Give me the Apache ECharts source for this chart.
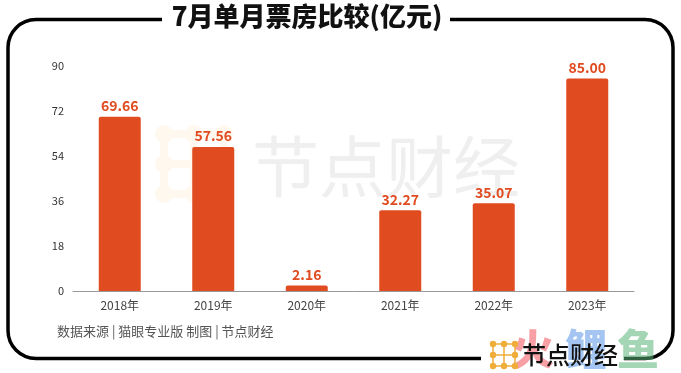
<!DOCTYPE html>
<html><head><meta charset="utf-8">
<script src="https://cdn.jsdelivr.net/npm/echarts@6/dist/echarts.min.js"></script>
<style>html,body{margin:0;padding:0;background:#fff}#c{width:681px;height:373px}</style>
</head><body><div id="c"></div>
<script>
const categories = ['2018年','2019年','2020年','2021年','2022年','2023年'];
const boxOffice = [69.66, 57.56, 2.16, 32.27, 35.07, 85.00];
const yTicks = [0, 18, 36, 54, 72, 90];
const titleText = '7月单月票房比较(亿元)';
const sourceText = '数据来源 | 猫眼专业版 制图 | 节点财经';

const chart = echarts.init(document.getElementById('c'), null, {renderer:'canvas'});
const FONT = '"Noto Sans CJK SC", "Noto Sans", sans-serif';

function dotIcon(x0, y0, step, r, color, lineW, z) {
  const els = [];
  for (let i = 0; i < 3; i++) {
    els.push({type:'line', shape:{x1:x0, y1:y0+i*step, x2:x0+2*step, y2:y0+i*step}, style:{stroke:color, lineWidth:lineW}, z:z});
    els.push({type:'line', shape:{x1:x0+i*step, y1:y0, x2:x0+i*step, y2:y0+2*step}, style:{stroke:color, lineWidth:lineW}, z:z});
  }
  for (let i = 0; i < 3; i++) for (let j = 0; j < 3; j++) {
    if (i === 1 && j === 1) continue;
    els.push({type:'circle', shape:{cx:x0+i*step, cy:y0+j*step, r:r}, style:{fill:color}, z:z});
  }
  return els;
}

const graphics = [
  {type:'rect', shape:{x:8, y:19.5, width:665, height:339, r:28}, style:{fill:'none', stroke:'#000', lineWidth:3.5}, z:1},
  {type:'rect', shape:{x:162, y:2, width:288, height:34}, style:{fill:'#fff'}, z:2},
  {type:'text', x:307, y:16, style:{text:titleText, font:'900 26px '+FONT, fill:'#111', textAlign:'center', textVerticalAlign:'middle'}, z:3},
  // watermark
  {type:'text', x:252, y:167, style:{text:'节点财经', font:'400 67px '+FONT, fill:'#efefef', textAlign:'left', textVerticalAlign:'middle'}, z:0},
  ...dotIcon(164, 134, 30, 9, '#fef8ef', 8, 0),
  // source
  {type:'text', x:57, y:331, style:{text:sourceText, font:'400 13px '+FONT, fill:'#555', textAlign:'left', textVerticalAlign:'middle'}, z:3},
  // bottom-right logo
  {type:'rect', shape:{x:481, y:340, width:143, height:33}, style:{fill:'#fff'}, z:2},
  {type:'text', x:512, y:349, style:{text:'火', font:'900 42px '+FONT, fill:'rgba(240,80,90,0.55)', textAlign:'left', textVerticalAlign:'middle'}, z:4},
  {type:'text', x:565, y:349, style:{text:'鲤', font:'900 42px '+FONT, fill:'rgba(90,150,230,0.55)', textAlign:'left', textVerticalAlign:'middle'}, z:4},
  {type:'text', x:617, y:349, style:{text:'鱼', font:'900 42px '+FONT, fill:'rgba(90,180,120,0.55)', textAlign:'left', textVerticalAlign:'middle'}, z:4},
  {type:'text', x:522, y:355, style:{text:'节点财经', font:'500 24px '+FONT, fill:'#111', textAlign:'left', textVerticalAlign:'middle'}, z:5},
  ...dotIcon(493, 344, 11, 3.2, '#efad3a', 1.5, 5)
];

chart.setOption({
  animation:false,
  backgroundColor:'#fff',
  grid:{left:73, right:47, top:66, bottom:82, containLabel:false},
  xAxis:{
    type:'category', data:categories,
    axisLine:{lineStyle:{color:'#999', width:1}},
    axisTick:{show:false},
    axisLabel:{color:'#444', fontSize:12, fontFamily:FONT, margin:8}
  },
  yAxis:{
    type:'value', min:0, max:90, interval:18,
    axisLine:{show:false}, axisTick:{show:false},
    splitLine:{show:false},
    axisLabel:{color:'#333', fontSize:11, fontFamily:FONT, margin:9,
      formatter: v => yTicks.includes(v) ? String(v) : ''}
  },
  series:[{
    type:'bar', data:boxOffice, barWidth:42,
    itemStyle:{color:'#E04B20', borderRadius:[2,2,0,0]},
    label:{show:true, position:'top', distance:4, color:'#E04B20', fontSize:14, fontWeight:'bold', fontFamily:FONT,
      formatter: p => p.value.toFixed(2)},
    z:3
  }],
  graphic:graphics
});
</script></body></html>
